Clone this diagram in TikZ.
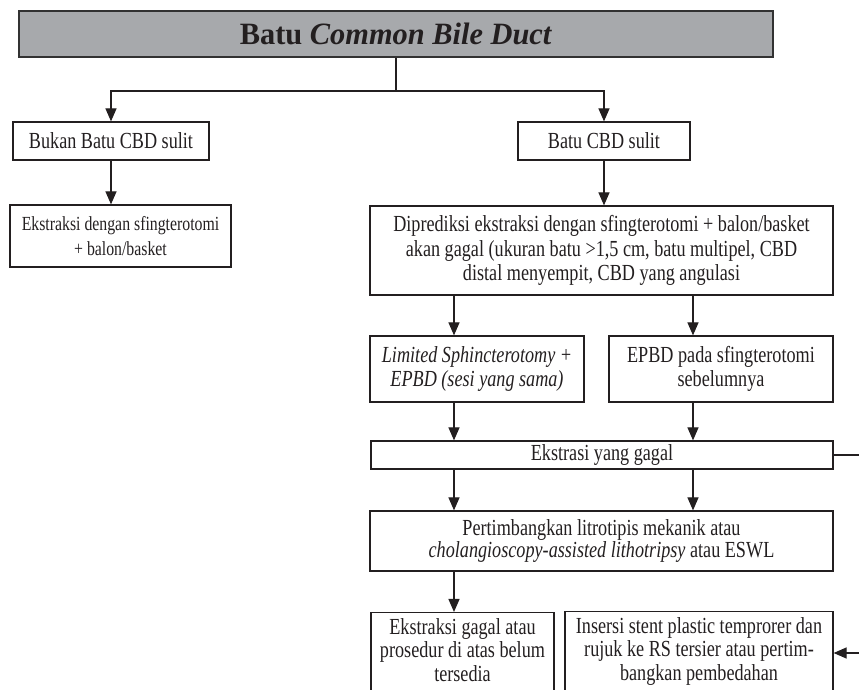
\documentclass[tikz,border=0pt]{standalone}
\usepackage{fontspec}
\setmainfont{Liberation Serif}[FakeStretch=0.79]
\newfontfamily\ttlfont{Liberation Serif}[FakeStretch=0.98]
\usetikzlibrary{arrows.meta,positioning,calc}
\definecolor{TitleGray}{RGB}{167,169,172}
\definecolor{EdgeDark}{RGB}{50,50,50}
\definecolor{InkBlack}{RGB}{35,31,32}

\begin{document}
\begin{tikzpicture}[x=0.5pt,y=-0.5pt,
    box/.style={draw=InkBlack,line width=0.6pt,align=center,inner sep=0pt,
                text=InkBlack,font=\fontsize{11.5}{11.7}\selectfont},
    ttl/.style={draw=EdgeDark,line width=1pt,fill=TitleGray,text=InkBlack,
                font=\ttlfont\fontsize{15.5}{17}\selectfont\bfseries},
    ln/.style={draw=InkBlack,line width=0.6pt},
    arr/.style={ln,-{Triangle[length=6.5pt,width=5.5pt]}}
  ]
  \useasboundingbox (0,0) rectangle (859,690);
  % boxes
  \node[ttl,minimum width=377pt,minimum height=23pt] (title) at (396,34)
    {Batu \textit{Common Bile Duct}};
  \node[box,minimum width=98pt,minimum height=19pt] (bukan) at (111,141)
    {Bukan Batu CBD sulit};
  \node[box,minimum width=86pt,minimum height=19pt] (batu) at (604,141)
    {Batu CBD sulit};
  \node[box,minimum width=110.5pt,minimum height=31pt,
        font=\fontsize{10}{12.5}\selectfont] (ekstr) at (120.5,236)
    {Ekstraksi dengan sfingterotomi\\+ balon/basket};
  \node[box,minimum width=231.5pt,minimum height=44.5pt,
        font=\fontsize{11.5}{12.4}\selectfont] (dipred) at (601.5,250.5)
    {Diprediksi ekstraksi dengan sfingterotomi + balon/basket\\
     akan gagal (ukuran batu >1,5 cm, batu multipel, CBD\\
     distal menyempit, CBD yang angulasi};
  \node[box,minimum width=107pt,minimum height=33pt] (limited) at (477,369)
    {\textit{Limited Sphincterotomy +}\\\textit{EPBD (sesi yang sama)}};
  \node[box,minimum width=112pt,minimum height=33pt] (epbd) at (721,369)
    {EPBD pada sfingterotomi\\sebelumnya};
  \node[box,minimum width=231pt,minimum height=14pt] (gagal) at (602,455)
    {Ekstrasi yang gagal};
  \node[box,minimum width=231.5pt,minimum height=30pt,
        font=\fontsize{11.5}{11}\selectfont] (pertim) at (601.5,541)
    {Pertimbangkan litrotipis mekanik atau\\
     \textit{cholangioscopy-assisted lithotripsy} atau ESWL};
  \node[box,minimum width=91.5pt,inner ysep=3pt,text depth=12pt,anchor=north]
    (failed) at (462.5,612)
    {Ekstraksi gagal atau\\prosedur di atas belum\\tersedia};
  \node[box,minimum width=134pt,inner ysep=3pt,text depth=12pt,anchor=north]
    (insersi) at (699,611)
    {Insersi stent plastic temprorer dan\\rujuk ke RS tersier atau pertim-\\bangkan pembedahan};
  % helper coordinates
  \coordinate (splitY) at (0,91);
  \coordinate (colA) at (454,0);
  \coordinate (colB) at (693,0);
  \coordinate (loopX) at (885,0);
  \coordinate (insIn) at (0,653);
  % connectors
  \draw[ln] (title.south) -- (title.south |- splitY) coordinate (split);
  \draw[arr] (split) -| (bukan.north);
  \draw[arr] (split) -| (batu.north);
  \draw[arr] (bukan.south) -- (bukan.south |- ekstr.north);
  \draw[arr] (batu.south) -- (batu.south |- dipred.north);
  \draw[arr] (colA |- dipred.south) -- (colA |- limited.north);
  \draw[arr] (colB |- dipred.south) -- (colB |- epbd.north);
  \draw[arr] (colA |- limited.south) -- (colA |- gagal.north);
  \draw[arr] (colB |- epbd.south) -- (colB |- gagal.north);
  \draw[arr] (colA |- gagal.south) -- (colA |- pertim.north);
  \draw[arr] (colB |- gagal.south) -- (colB |- pertim.north);
  \draw[arr] (colA |- pertim.south) -- (colA |- failed.north);
  \draw[arr] (gagal.east) -- (loopX |- gagal.east) -- (loopX |- insIn)
    -- (insersi.east |- insIn);
\end{tikzpicture}
\end{document}
